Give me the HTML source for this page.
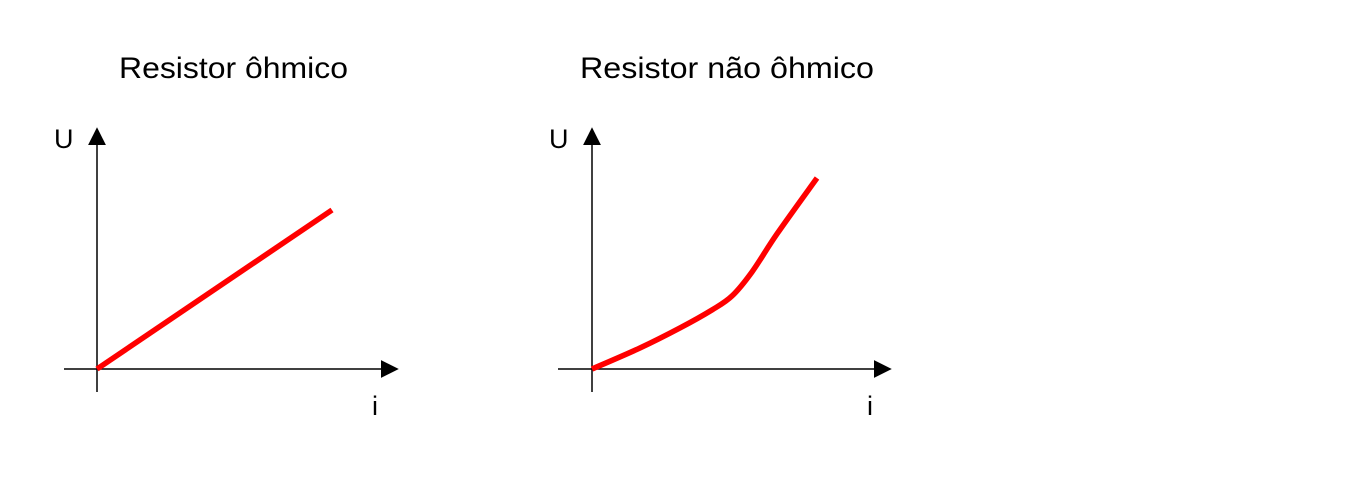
<!DOCTYPE html>
<html><head><meta charset="utf-8"><style>
html,body{margin:0;padding:0;background:#fff;width:1367px;height:487px;overflow:hidden}
svg{display:block}
text{font-family:"Liberation Sans",Arial,sans-serif;fill:#000}
</style></head><body>
<svg id="c" width="1367" height="487" viewBox="0 0 1367 487">
<defs><marker id="arw" viewBox="0 0 10 10" refX="9" refY="5" markerWidth="18" markerHeight="18" markerUnits="userSpaceOnUse" orient="auto"><path d="M0,0 L10,5 L0,10z" fill="#000"/></marker></defs>
<text x="119" y="78" font-size="30" textLength="229" lengthAdjust="spacingAndGlyphs">Resistor ôhmico</text>
<text x="580" y="78" font-size="30" textLength="294" lengthAdjust="spacingAndGlyphs">Resistor não ôhmico</text>
<g>
<line x1="97" y1="392" x2="97" y2="129" stroke="#000" stroke-width="1.5" marker-end="url(#arw)"/>
<line x1="64" y1="369" x2="397" y2="369" stroke="#000" stroke-width="1.5" marker-end="url(#arw)"/>
<text x="54" y="148" font-size="27">U</text>
<text x="372" y="415" font-size="27">i</text>
</g>
<g>
<line x1="592" y1="392" x2="592" y2="129" stroke="#000" stroke-width="1.5" marker-end="url(#arw)"/>
<line x1="558" y1="369" x2="890" y2="369" stroke="#000" stroke-width="1.5" marker-end="url(#arw)"/>
<text x="549" y="148" font-size="27">U</text>
<text x="867" y="415" font-size="27">i</text>
</g>
</svg>
<script>
const ohmicI = [0, 1];
const ohmicU = [0, 1];
const nonOhmicI = [0, 0.213, 0.391, 0.533, 0.622, 0.711, 0.822, 1];
const nonOhmicU = [0, 0.110, 0.215, 0.309, 0.382, 0.508, 0.707, 1];
function xL(v){return 97 + v*235;}
function yL(v){return 369 - v*159;}
function xR(v){return 592 + v*225;}
function yR(v){return 369 - v*191;}
const svg = document.getElementById('c');
const NS = 'http://www.w3.org/2000/svg';
function line(xs, ys, fx, fy, smooth){
  const p = xs.map((v,i)=>[fx(v), fy(ys[i])]);
  let d = 'M'+p[0][0]+','+p[0][1];
  if(!smooth || p.length<3){ for(let i=1;i<p.length;i++) d+=' L'+p[i][0]+','+p[i][1]; }
  else {
    for(let i=0;i<p.length-1;i++){
      const p0=p[Math.max(0,i-1)],p1=p[i],p2=p[i+1],p3=p[Math.min(p.length-1,i+2)];
      const c1=[p1[0]+(p2[0]-p0[0])/6,p1[1]+(p2[1]-p0[1])/6];
      const c2=[p2[0]-(p3[0]-p1[0])/6,p2[1]-(p3[1]-p1[1])/6];
      d+=' C'+c1[0]+','+c1[1]+' '+c2[0]+','+c2[1]+' '+p2[0]+','+p2[1];
    }
  }
  const el = document.createElementNS(NS,'path');
  el.setAttribute('d', d);
  el.setAttribute('fill','none');
  el.setAttribute('stroke','#ff0000');
  el.setAttribute('stroke-width','5.5');
  svg.appendChild(el);
  return el;
}
const l1 = line(ohmicI, ohmicU, xL, yL, false);


const l2 = line(nonOhmicI, nonOhmicU, xR, yR, true);


</script>
</body></html>
